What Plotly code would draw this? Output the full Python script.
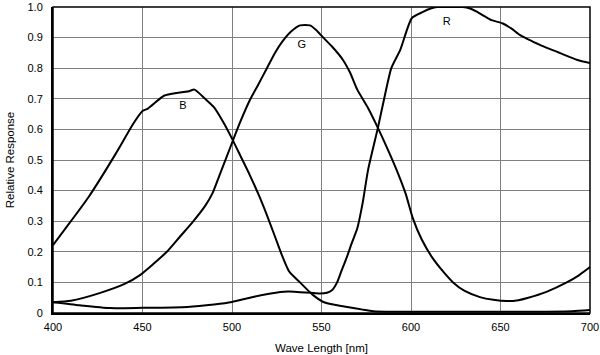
import plotly.graph_objects as go

b_nm = [400, 410, 420, 435, 445, 450, 453, 462, 470, 476, 479, 485, 490, 495, 500, 505, 510, 515, 519.5, 524, 528.5, 532, 538, 545, 551, 558, 566, 573, 579, 590, 620, 660, 690, 700]
b_val = [0.222, 0.30, 0.38, 0.52, 0.62, 0.66, 0.668, 0.71, 0.72, 0.725, 0.73, 0.70, 0.672, 0.625, 0.57, 0.51, 0.45, 0.385, 0.32, 0.25, 0.18, 0.135, 0.10, 0.06, 0.036, 0.026, 0.018, 0.011, 0.006, 0.004, 0.004, 0.004, 0.006, 0.01]

g_nm = [400, 410, 426, 440, 448.6, 456, 463.6, 471, 478, 485, 489, 493, 497, 500.6, 505, 510, 515, 519.5, 524, 528.5, 533, 538, 543.6, 547, 551, 556, 562, 566, 570, 576, 581.5, 587, 592, 597, 601, 606, 612, 618, 623.5, 630, 638.5, 646, 653.6, 660, 665, 676, 687, 694, 700]
g_val = [0.035, 0.04, 0.065, 0.095, 0.124, 0.16, 0.2, 0.25, 0.297, 0.35, 0.39, 0.45, 0.51, 0.565, 0.63, 0.696, 0.75, 0.80, 0.85, 0.89, 0.92, 0.94, 0.94, 0.925, 0.90, 0.87, 0.827, 0.785, 0.73, 0.67, 0.605, 0.535, 0.467, 0.39, 0.31, 0.24, 0.18, 0.135, 0.10, 0.072, 0.052, 0.043, 0.039, 0.042, 0.049, 0.07, 0.10, 0.124, 0.15]

r_nm = [400, 415, 432, 450, 475, 490, 500, 510, 520, 527, 532, 538, 544, 549, 553, 556, 558.7, 561, 564, 567, 570, 573, 576, 581.5, 585, 589, 594, 600.5, 606.7, 611, 614.5, 622, 629, 633, 637, 641, 645, 651, 656, 661, 667, 672, 683, 693, 700]
r_val = [0.035, 0.025, 0.016, 0.017, 0.02, 0.028, 0.036, 0.05, 0.062, 0.069, 0.07, 0.068, 0.066, 0.064, 0.066, 0.075, 0.10, 0.135, 0.18, 0.23, 0.277, 0.36, 0.467, 0.605, 0.70, 0.80, 0.86, 0.964, 0.984, 0.995, 1.0, 1.0, 1.0, 0.995, 0.984, 0.97, 0.957, 0.947, 0.93, 0.908, 0.89, 0.876, 0.85, 0.827, 0.817]

curve_labels = ["B", "G", "R"]
label_nm = [472.6, 539, 620]
label_val = [0.676, 0.876, 0.95]

x_ticks = [400, 450, 500, 550, 600, 650, 700]
y_ticks = [0, 0.1, 0.2, 0.3, 0.4, 0.5, 0.6, 0.7, 0.8, 0.9, 1.0]
y_ticktext = ["0", "0.1", "0.2", "0.3", "0.4", "0.5", "0.6", "0.7", "0.8", "0.9", "1.0"]

fig = go.Figure()
for xs, ys in [(b_nm, b_val), (g_nm, g_val), (r_nm, r_val)]:
    fig.add_trace(go.Scatter(x=xs, y=ys, mode="lines",
                             line=dict(color="black", width=2, shape="spline", smoothing=0.6),
                             showlegend=False, hoverinfo="skip"))

fig.add_trace(go.Scatter(x=label_nm, y=label_val, mode="text", text=curve_labels,
                         textfont=dict(family="Liberation Sans, Arial", size=11, color="black"),
                         showlegend=False, hoverinfo="skip"))

fig.update_layout(
    width=600, height=355,
    margin=dict(l=53, r=10, t=7, b=42),
    paper_bgcolor="white", plot_bgcolor="white",
    font=dict(family="Liberation Sans, Arial", size=11, color="black"),
    xaxis=dict(range=[400, 700], tickvals=x_ticks, showgrid=True, gridcolor="#808080", gridwidth=1,
               showline=True, linecolor="black", linewidth=2, mirror=False, zeroline=False,
               ticks="outside", ticklen=3, tickcolor="rgba(0,0,0,0)", automargin=False,
               title=dict(text="Wave Length [nm]", font=dict(size=11.5), standoff=12)),
    yaxis=dict(range=[0, 1.0], tickvals=y_ticks, ticktext=y_ticktext, showgrid=True, gridcolor="#808080",
               gridwidth=1, showline=True, linecolor="black", linewidth=2, zeroline=False,
               ticks="outside", ticklen=6, tickcolor="rgba(0,0,0,0)", automargin=False,
               title=dict(text="Relative Response", font=dict(size=11.5), standoff=10)),
)
fig.add_shape(type="rect", xref="paper", yref="paper", x0=0, y0=0, x1=1, y1=1,
              line=dict(color="black", width=1.5), layer="above")

fig.write_html("out.html", config={"displayModeBar": False},
               post_script="document.body.style.margin='0';document.body.style.overflow='hidden';")
